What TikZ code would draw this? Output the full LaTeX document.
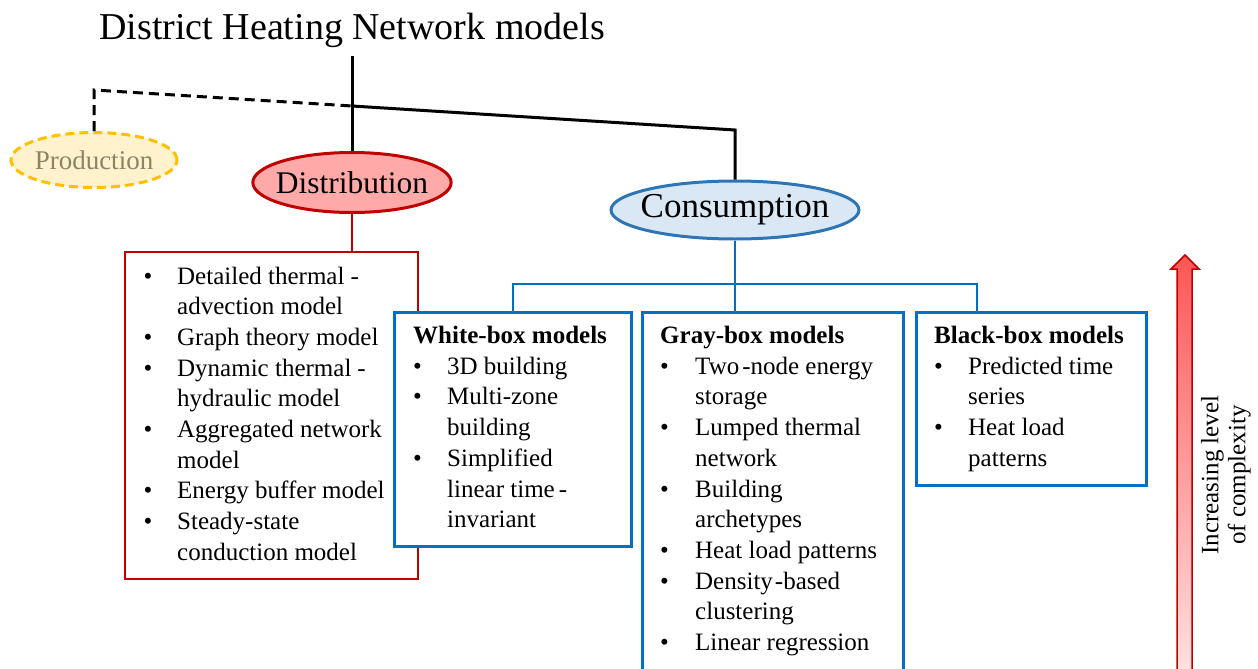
\documentclass[tikz,border=0pt]{standalone}
\usepackage{fontspec}
\setmainfont{Liberation Serif}
\usetikzlibrary{shapes.geometric}
\definecolor{dred}{HTML}{C00000}
\definecolor{dfill}{HTML}{FFA9A9}
\definecolor{bblue}{HTML}{0070C0}
\definecolor{cblue}{HTML}{2E75B6}
\definecolor{cfill}{HTML}{DAE8F5}
\definecolor{porange}{HTML}{FFC000}
\definecolor{pfill}{HTML}{FFF2CC}
\definecolor{ptext}{HTML}{8C8466}
\definecolor{arrtop}{HTML}{FF5555}
\definecolor{arrbot}{HTML}{FFEAEA}
\tikzset{
  blk/.style={line width=3pt, black},
  rdline/.style={line width=2pt, dred},
  blline/.style={line width=2.5pt, bblue},
  ell/.style={ellipse, inner ysep=0pt, line width=3pt},
  rbx/.style={draw=dred, line width=2.2pt, fill=white, inner sep=0pt, anchor=north west},
  bbx/.style={draw=bblue, line width=2.5pt, fill=white, inner sep=0pt, anchor=north west},
  lst/.style={anchor=base west, inner sep=0pt, font=\fontsize{25}{30.7}\selectfont},
}
\begin{document}
\begin{tikzpicture}[x=1pt, y=-1pt]
\path[use as bounding box] (0,0) rectangle (1258,669);
\clip (0,0) rectangle (1258,669);

% title
\node[anchor=base, inner sep=0pt, font=\fontsize{38}{40}\selectfont] (title) at (352,40) {District Heating Network models};
\coordinate (stemtop) at (352,56);

% ellipses
\node[ell, inner xsep=-2pt, draw=porange, dash pattern=on 9pt off 5pt, fill=pfill, minimum width=166pt, minimum height=55pt,
      text=ptext, font=\fontsize{27}{29}\selectfont] (prod) at (94,160) {Production};
\node[ell, inner xsep=-6pt, draw=dred, fill=dfill, minimum width=198pt, minimum height=60pt,
      font=\fontsize{31.5}{34}\selectfont] (dist) at (352,182.5) {Distribution};
\node[ell, inner xsep=-7pt, draw=cblue, fill=cfill, minimum width=248pt, minimum height=58pt,
      font=\fontsize{35}{37}\selectfont] (cons) at (735,210) {Consumption};

% top connectors
\coordinate (pj) at (94,90);
\coordinate (dj) at (352,106);
\coordinate (cj) at (735,130);
\draw[blk] (stemtop) -- (dist.north);
\draw[blk, dash pattern=on 10pt off 6pt] (prod.north) -- (pj) -- (dj);
\draw[blk] (dj) -- (cj) -- (cons.north);

% boxes
\node[rbx, minimum width=293pt, minimum height=327pt] (rbox) at (124,251) {};
\node[bbx, minimum width=237pt, minimum height=234pt] (wbox) at (393,311) {};
\node[bbx, minimum width=261pt, minimum height=380pt] (gbox) at (641,311) {};
\node[bbx, minimum width=230pt, minimum height=173pt] (kbox) at (915,311) {};

% distribution connector
\draw[rdline] (dist.south) -- (dist.south |- rbox.north);

% consumption tree
\coordinate (hub) at (735,284);
\coordinate (wj) at (513,284);
\coordinate (bj) at (977,284);
\draw[blline] (cons.south) -- (hub);
\draw[blline, line cap=rect] (wj) -- (bj);
\draw[blline] (wj) -- (wj |- wbox.north);
\draw[blline] (hub) -- (hub |- gbox.north);
\draw[blline] (bj) -- (bj |- kbox.north);

% lists
\node[lst] (rlist) at (143.5,284) {\begin{tabular}[t]{@{}p{33.5pt}@{}l@{}}
\textbullet & Detailed thermal\hspace{6pt}-\\
 & advection model\\
\textbullet & Graph theory model\\
\textbullet & Dynamic thermal\hspace{6pt}-\\
 & hydraulic model\\
\textbullet & Aggregated network\\
 & model\\
\textbullet & Energy buffer model\\
\textbullet & Steady-state\\
 & conduction model
\end{tabular}};

\node[lst] (wlist) at (413,343.5) {\begin{tabular}[t]{@{}p{34pt}@{}l@{}}
\multicolumn{2}{@{}l@{}}{\bfseries White-box models}\\
\textbullet & 3D building\\
\textbullet & Multi-zone\\
 & building\\
\textbullet & Simplified\\
 & linear time\hspace{4pt}-\\
 & invariant
\end{tabular}};

\node[lst] (glist) at (660,343.5) {\begin{tabular}[t]{@{}p{35pt}@{}l@{}}
\multicolumn{2}{@{}l@{}}{\bfseries Gray-box models}\\
\textbullet & Two\hspace{3pt}-node energy\\
 & storage\\
\textbullet & Lumped thermal\\
 & network\\
\textbullet & Building\\
 & archetypes\\
\textbullet & Heat load patterns\\
\textbullet & Density\hspace{2pt}-based\\
 & clustering\\
\textbullet & Linear regression
\end{tabular}};

\node[lst] (klist) at (934,343.5) {\begin{tabular}[t]{@{}p{34pt}@{}l@{}}
\multicolumn{2}{@{}l@{}}{\bfseries Black-box models}\\
\textbullet & Predicted time\\
 & series\\
\textbullet & Heat load\\
 & patterns
\end{tabular}};

% complexity arrow
\shade[top color=arrtop, bottom color=arrbot, draw=dred, line width=1.5pt]
  (1177,700) -- (1177,269) -- (1171,269) -- (1185,255) -- (1199,269) -- (1192,269) -- (1192,700) -- cycle;
\node[rotate=90, align=center, inner sep=0pt, font=\fontsize{25}{27}\selectfont] (lbl) at (1226,475) {Increasing level\\of complexity};
\end{tikzpicture}
\end{document}
